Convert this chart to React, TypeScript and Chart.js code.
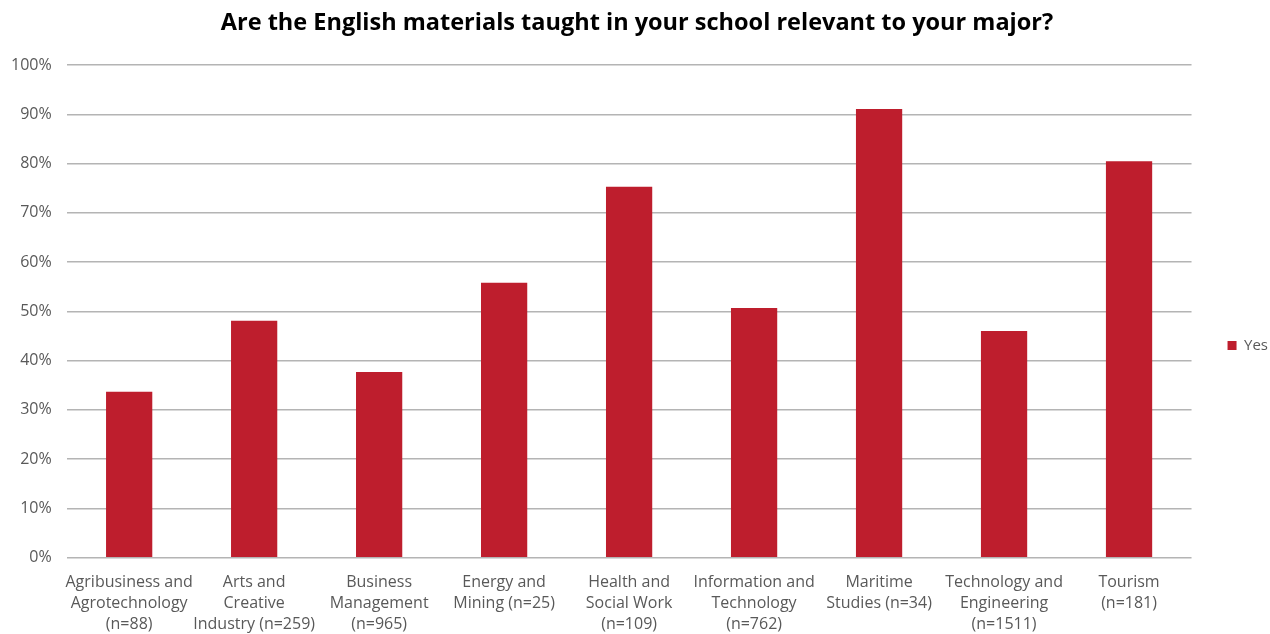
import React, { useEffect, useRef } from "react";
import { Chart, registerables } from "chart.js";

Chart.register(...registerables);

const categories: string[][] = [
  ["Agribusiness and", "Agrotechnology", "(n=88)"],
  ["Arts and", "Creative", "Industry (n=259)"],
  ["Business", "Management", "(n=965)"],
  ["Energy and", "Mining (n=25)"],
  ["Health and", "Social Work", "(n=109)"],
  ["Information and", "Technology", "(n=762)"],
  ["Maritime", "Studies (n=34)"],
  ["Technology and", "Engineering", "(n=1511)"],
  ["Tourism", "(n=181)"],
];
const yesValues = [33.7, 48.1, 37.7, 55.8, 75.3, 50.7, 91.1, 46.0, 80.5];
const seriesName = "Yes";
const titleText = "Are the English materials taught in your school relevant to your major?";

export default function App() {
  const ref = useRef<HTMLCanvasElement | null>(null);
  useEffect(() => {
    document.body.style.margin = "0";
    if (!ref.current) return;
    const chart = new Chart(ref.current, {
      type: "bar",
      data: {
        labels: categories,
        datasets: [
          {
            label: seriesName,
            data: yesValues,
            backgroundColor: "#be1e2d",
            borderWidth: 0,
            barPercentage: 0.74,
            categoryPercentage: 0.5,
          },
        ],
      },
      options: {
        animation: false,
        responsive: false,
        maintainAspectRatio: false,
        layout: { padding: { left: -4, right: -8, top: 0, bottom: -15 } },
        plugins: {
          title: {
            display: true,
            text: titleText,
            color: "#000000",
            font: { family: "Open Sans", size: 23.5, weight: "bold" },
            padding: { top: 9, bottom: 28 },
          },
          legend: {
            position: "right",
            title: {
              display: true,
              text: " ",
              font: { family: "Open Sans", size: 15 },
              padding: { top: 12, bottom: 12 },
            },
            labels: {
              boxWidth: 9,
              boxHeight: 9,
              color: "#595959",
              font: { family: "Open Sans", size: 15 },
              padding: 36,
            },
          },
          tooltip: { enabled: false },
        },
        scales: {
          x: {
            grid: { display: false, drawTicks: false, tickLength: 0 },
            border: { display: false },
            ticks: {
              color: "#595959",
              font: { family: "Open Sans", size: 16, lineHeight: 1.32 },
              maxRotation: 0,
              autoSkip: false,
              padding: 14,
            },
          },
          y: {
            min: 0,
            max: 100,
            border: { display: false },
            grid: { color: "#b4b4b4", lineWidth: 1.5, drawTicks: false },
            ticks: {
              stepSize: 10,
              color: "#595959",
              font: { family: "Open Sans", size: 16 },
              padding: 15,
              callback: (v) => v + "%",
            },
          },
        },
      },
    });
    return () => chart.destroy();
  }, []);
  return <canvas ref={ref} width={1270} height={634} style={{ display: "block" }} />;
}
